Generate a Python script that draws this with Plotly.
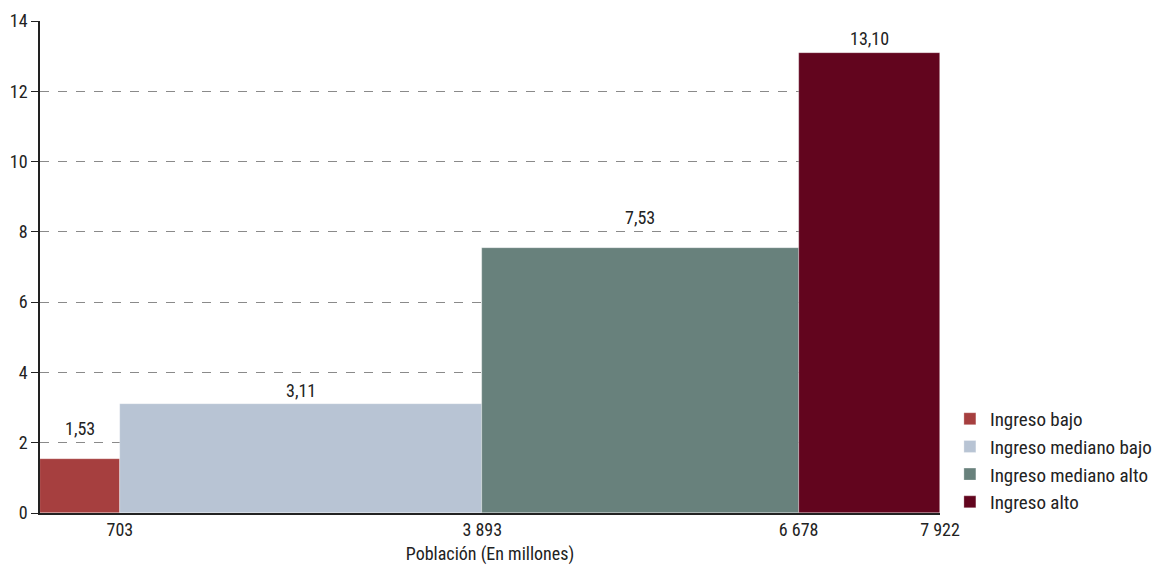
import plotly.graph_objects as go

categories = ["Ingreso bajo", "Ingreso mediano bajo", "Ingreso mediano alto", "Ingreso alto"]
population = [703, 3190, 2785, 1244]   # millones
values = [1.53, 3.11, 7.53, 13.10]
tick_values = [703, 3893, 6678, 7922]
colors = ["#A63F3F", "#B8C4D4", "#68817C", "#62051E"]
label_shift = [31, 13, 31, 14]   # px above bar top (style)

font_family = "Roboto Condensed, Roboto, sans-serif"

fig = go.Figure()
start = 0
for name, w, v, c, s in zip(categories, population, values, colors, label_shift):
    fig.add_trace(go.Bar(
        x=[start + w / 2], y=[v], width=[w], name=name,
        marker=dict(color=c, line=dict(color="rgba(255,255,255,0.5)", width=0.6)),
        hoverinfo="skip",
    ))
    fig.add_annotation(
        x=start + w / 2, y=v, text=f"{v:.2f}".replace(".", ","),
        showarrow=False, yanchor="middle", yshift=s,
        font=dict(size=18, color="#222222"),
    )
    start += w

fig.update_layout(
    width=1161, height=565,
    margin=dict(l=40, r=221, t=21, b=52, autoexpand=False),
    paper_bgcolor="white", plot_bgcolor="white",
    separators=", ",
    font=dict(family=font_family, size=18, color="#222222"),
    bargap=0,
    showlegend=True,
    legend=dict(x=1.011, xanchor="left", y=-0.016, yanchor="bottom",
                font=dict(size=19), itemwidth=30, tracegroupgap=0,
                traceorder="normal"),
    xaxis=dict(range=[0, 7922], tickvals=tick_values, showgrid=False,
               showline=True, linecolor="#222222", linewidth=1.5,
               ticks="", zeroline=False, automargin=False,
               title=dict(text="Población (En millones)", font=dict(size=18), standoff=9),
               tickformat=",d", tickfont=dict(size=18)),
    yaxis=dict(range=[0, 14], dtick=2, showgrid=True, gridcolor="#8A8A8A",
               griddash="dash", gridwidth=1, showline=True, automargin=False,
               linecolor="#222222", linewidth=1.5, ticks="outside",
               ticklen=7, tickcolor="#222222", zeroline=False,
               tickfont=dict(size=18)),
)

fig.write_html("out.html", config={"displayModeBar": False},
               post_script="document.body.style.margin='0';")
